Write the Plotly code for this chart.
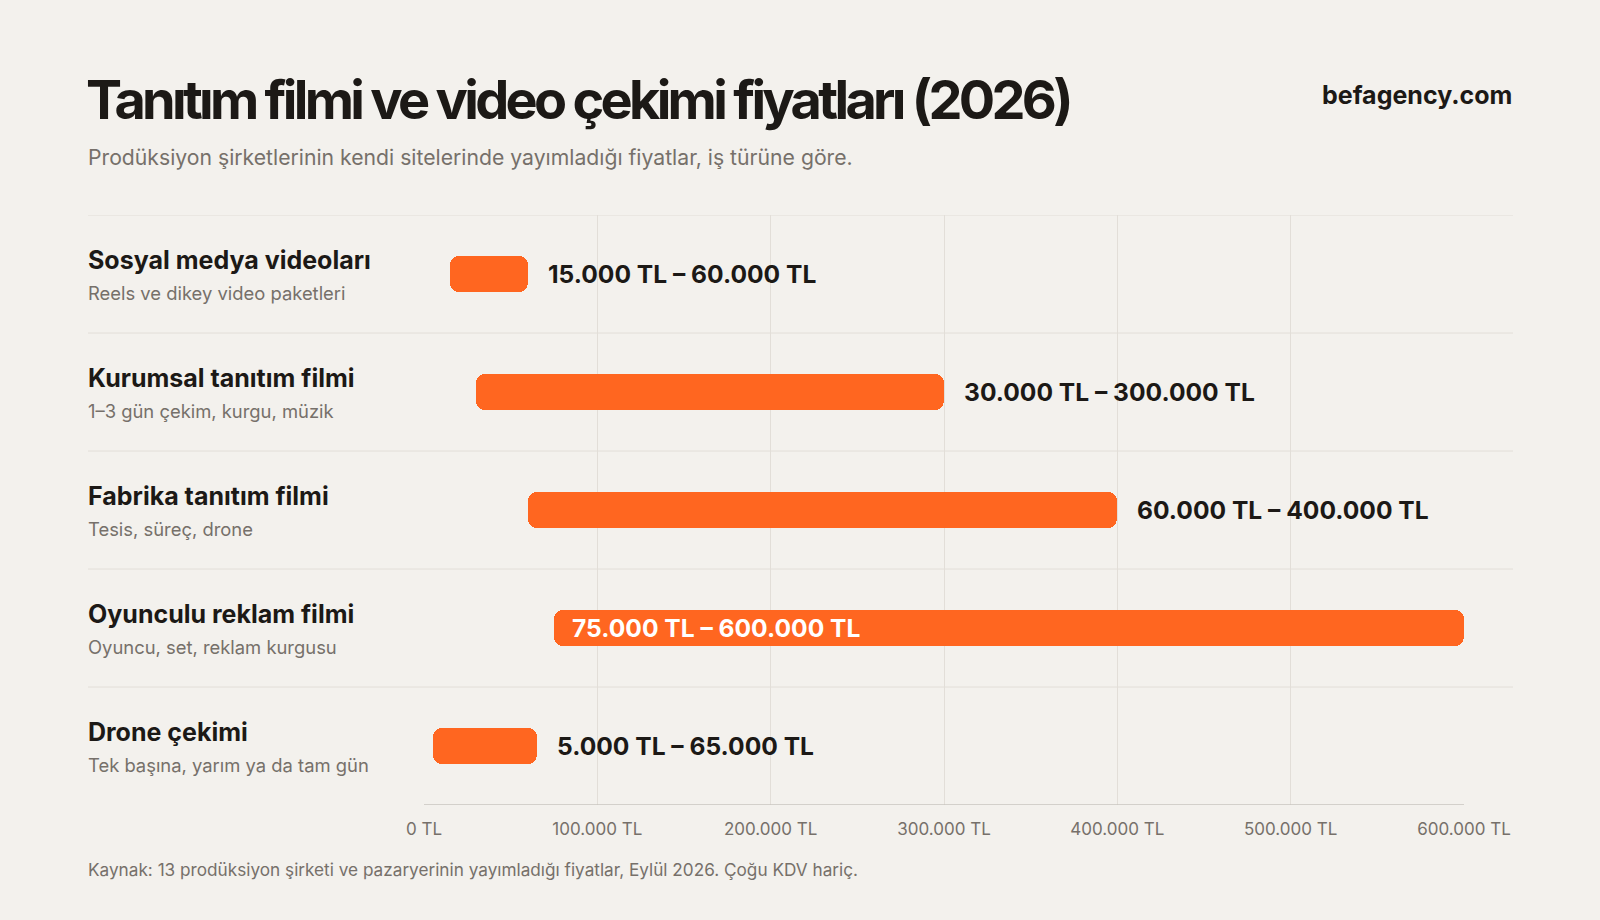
import plotly.graph_objects as go

# ---- data ----
categories = ["Sosyal medya videoları", "Kurumsal tanıtım filmi", "Fabrika tanıtım filmi",
              "Oyunculu reklam filmi", "Drone çekimi"]
descriptions = ["Reels ve dikey video paketleri", "1–3 gün çekim, kurgu, müzik", "Tesis, süreç, drone",
                "Oyuncu, set, reklam kurgusu", "Tek başına, yarım ya da tam gün"]
price_min = [15000, 30000, 60000, 75000, 5000]
price_max = [60000, 300000, 400000, 600000, 65000]
tick_values = [0, 100000, 200000, 300000, 400000, 500000, 600000]

title = "Tanıtım filmi ve video çekimi fiyatları (2026)"
subtitle = "Prodüksiyon şirketlerinin kendi sitelerinde yayımladığı fiyatlar, iş türüne göre."
brand = "befagency.com"
source = "Kaynak: 13 prodüksiyon şirketi ve pazaryerinin yayımladığı fiyatlar, Eylül 2026. Çoğu KDV hariç."

BG = "#f3f1ed"
ORANGE = "#ff6620"
DARK = "#1c1916"
GREY = "#76706a"
GRID = "#e2ded8"
FONT = "Inter"

def tl(v):
    return f"{v:,}".replace(",", ".") + " TL"

W, H = 1600, 920
L, R, T, B = 424, 136, 215, 115
xmax = tick_values[-1]

fig = go.Figure()
fig.add_trace(go.Bar(
    y=list(range(len(categories))),
    x=[b - a for a, b in zip(price_min, price_max)],
    base=price_min,
    orientation="h",
    marker=dict(color=ORANGE, cornerradius=9, line=dict(width=0)),
    width=0.305,
    hoverinfo="skip",
))

annotations = []
shapes = []
pw = W - L - R

def px_to_paper(x):
    return (x - L) / pw

for i, (cat, desc, a, b) in enumerate(zip(categories, descriptions, price_min, price_max)):
    annotations.append(dict(x=px_to_paper(86), xref="paper", y=i, yref="y", yshift=14,
                            text=f"<b>{cat}</b>", showarrow=False, xanchor="left", yanchor="middle",
                            font=dict(family=FONT, size=25, color=DARK)))
    annotations.append(dict(x=px_to_paper(86), xref="paper", y=i, yref="y", yshift=-19,
                            text=desc, showarrow=False, xanchor="left", yanchor="middle",
                            font=dict(family=FONT, size=18.4, color=GREY)))
    label = f"<b>{tl(a)} – {tl(b)}</b>"
    if b >= xmax:
        annotations.append(dict(x=a, xref="x", y=i, yref="y", xshift=16, text=label, showarrow=False,
                                xanchor="left", yanchor="middle",
                                font=dict(family=FONT, size=24.6, color="white")))
    else:
        annotations.append(dict(x=b, xref="x", y=i, yref="y", xshift=18, text=label, showarrow=False,
                                xanchor="left", yanchor="middle",
                                font=dict(family=FONT, size=24.6, color=DARK)))

# row separators
for k in range(len(categories)):
    shapes.append(dict(type="line", xref="paper", yref="y", x0=px_to_paper(88), x1=px_to_paper(1513),
                       y0=k - 0.5, y1=k - 0.5, line=dict(color=GRID, width=1), layer="below"))
# axis baseline
shapes.append(dict(type="line", xref="paper", yref="y", x0=0, x1=1,
                   y0=len(categories) - 0.5, y1=len(categories) - 0.5,
                   line=dict(color="#c9c5bf", width=1.5), layer="above"))

# title block
annotations += [
    dict(x=px_to_paper(84), xref="paper", y=H - 99, yref="paper",
         text=f'<span style="letter-spacing:-3.7px"><b>{title}</b></span>',
         showarrow=False, xanchor="left", yanchor="middle", font=dict(family=FONT, size=54, color=DARK)),
    dict(x=px_to_paper(86), xref="paper", y=H - 157, yref="paper", text=subtitle,
         showarrow=False, xanchor="left", yanchor="middle", font=dict(family=FONT, size=21.2, color=GREY)),
    dict(x=px_to_paper(1514), xref="paper", y=H - 95, yref="paper", text=f"<b>{brand}</b>",
         showarrow=False, xanchor="right", yanchor="middle", font=dict(family=FONT, size=25, color=DARK)),
    dict(x=px_to_paper(86), xref="paper", y=H - 869, yref="paper", text=source,
         showarrow=False, xanchor="left", yanchor="middle", font=dict(family=FONT, size=17.2, color=GREY)),
]
ph = H - T - B
for an in annotations:
    if an.get("yref") == "paper":
        an["y"] = (an["y"] - B) / ph

fig.update_layout(
    width=W, height=H,
    margin=dict(l=L, r=R, t=T, b=B, pad=0),
    paper_bgcolor=BG, plot_bgcolor=BG,
    showlegend=False,
    bargap=0,
    xaxis=dict(range=[0, xmax], tickvals=tick_values, ticktext=[tl(v) for v in tick_values],
               showgrid=True, gridcolor=GRID, gridwidth=1, zeroline=False, showline=False,
               ticks="", ticklen=0, tickfont=dict(family=FONT, size=17, color=GREY),
               fixedrange=True),
    yaxis=dict(range=[len(categories) - 0.5, -0.5], showgrid=False, zeroline=False,
               showticklabels=False, ticks="", fixedrange=True),
    annotations=annotations,
    shapes=shapes,
)
fig.update_xaxes(ticklabelstandoff=12)

fig.write_html(
    "out.html",
    config={"displayModeBar": False},
    post_script="document.body.style.margin='0';document.body.style.background='%s';document.body.style.overflow='hidden';" % BG,
)
